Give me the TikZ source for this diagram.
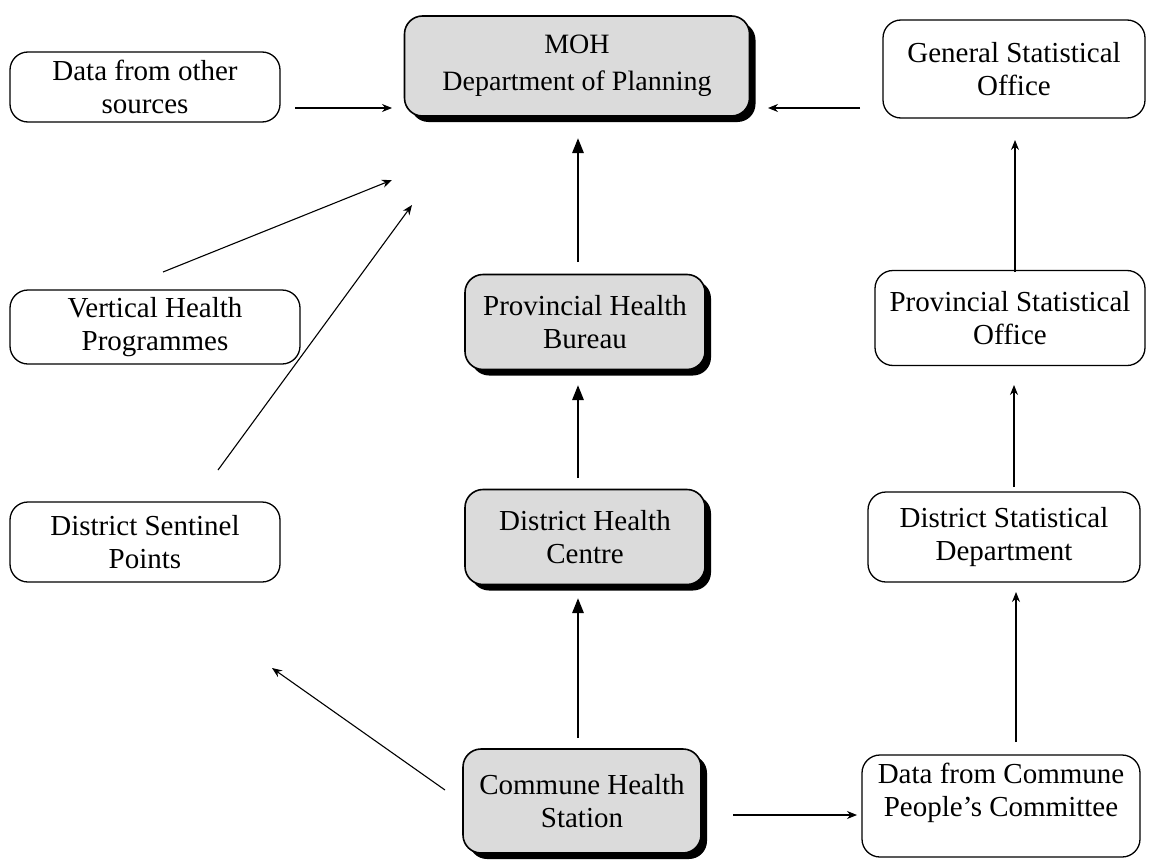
\documentclass[tikz,border=0pt]{standalone}
\usepackage{fontspec}
\setmainfont{Liberation Serif}
\usetikzlibrary{shadows,arrows.meta}
\begin{document}
\begin{tikzpicture}[x=1pt,y=-1pt,
 box/.style={draw, line width=1.3pt, rounded corners=18pt, align=center,
   font=\fontsize{29}{33}\selectfont, inner sep=0pt},
 shaded/.style={box, fill=gray!28, line width=1.6pt,
   drop shadow={shadow xshift=6pt, shadow yshift=-6pt, fill=black, opacity=1}},
 flow/.style={-{Stealth[length=10pt,width=8pt]}, line width=1.1pt},
 main/.style={-{Triangle[length=15pt,width=11pt]}, line width=2.8pt}]
\useasboundingbox (0,0) rectangle (1153,867);
\fill[white] (0,0) rectangle (1153,867);
% left column
\node[box, minimum width=270pt, minimum height=70pt] (dfo) at (145,87) {Data from other\\sources};
\node[box, minimum width=290pt, minimum height=74pt] (vhp) at (155,327) {Vertical Health\\Programmes};
\node[box, minimum width=270pt, minimum height=80pt] (dsp) at (145,542) {District Sentinel\\Points};
% centre column
\node[shaded, minimum width=345pt, minimum height=100pt, font=\fontsize{28}{37}\selectfont] (moh) at (577,66) {MOH\\Department of Planning};
\node[shaded, minimum width=240pt, minimum height=95pt] (phb) at (585,322) {Provincial Health\\Bureau};
\node[shaded, minimum width=240pt, minimum height=95pt] (dhc) at (585,537) {District Health\\Centre};
\node[shaded, minimum width=238pt, minimum height=104pt] (chs) at (582,801) {Commune Health\\Station};
% right column
\node[box, minimum width=262pt, minimum height=98pt] (gso) at (1014,69) {General Statistical\\Office};
\node[box, minimum width=270pt, minimum height=95pt] (pso) at (1010,318) {Provincial Statistical\\Office};
\node[box, minimum width=272pt, minimum height=90pt] (dsd) at (1004,537) {District Statistical\\Department};
\node[box, minimum width=278pt, minimum height=102pt] (dcp) at (1001,806) {Data from Commune\\People's Committee\\\mbox{}};
% arrow end points
\coordinate (a1s) at (295,108); \coordinate (a1e) at (392,108);
\coordinate (a2s) at (163,272); \coordinate (a2e) at (392,180);
\coordinate (a3s) at (218,470); \coordinate (a3e) at (412,205);
\coordinate (a4s) at (860,108); \coordinate (a4e) at (768,108);
\coordinate (a5s) at (445,790); \coordinate (a5e) at (272,668);
\coordinate (a6s) at (733,815); \coordinate (a6e) at (857,815);
\coordinate (m1s) at (578,262); \coordinate (m1e) at (578,138);
\coordinate (m2s) at (578,478); \coordinate (m2e) at (578,385);
\coordinate (m3s) at (578,738); \coordinate (m3e) at (578,598);
\coordinate (r1s) at (1016,742); \coordinate (r1e) at (1016,592);
\coordinate (r2s) at (1014,487); \coordinate (r2e) at (1014,385);
\coordinate (r3s) at (1015,272); \coordinate (r3e) at (1015,140);
% connectors
\draw[flow] (a1s) -- (a1e);
\draw[flow] (a2s) -- (a2e);
\draw[flow] (a3s) -- (a3e);
\draw[flow] (a4s) -- (a4e);
\draw[flow] (a5s) -- (a5e);
\draw[flow] (a6s) -- (a6e);
\draw[main] (m1s) -- (m1e);
\draw[main] (m2s) -- (m2e);
\draw[main] (m3s) -- (m3e);
\draw[flow] (r1s) -- (r1e);
\draw[flow] (r2s) -- (r2e);
\draw[flow] (r3s) -- (r3e);
\end{tikzpicture}
\end{document}
